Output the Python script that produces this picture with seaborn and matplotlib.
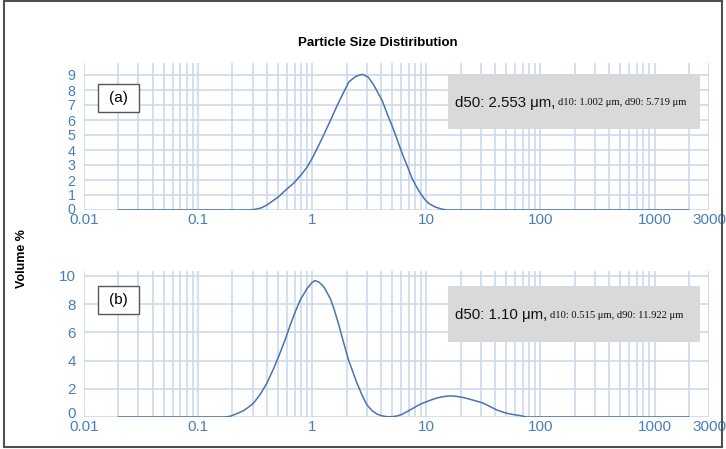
import matplotlib
matplotlib.use("Agg")
import matplotlib.pyplot as plt
from matplotlib.patches import Rectangle
from matplotlib.text import Annotation
import matplotlib.transforms as mtrans
import numpy as np
import pandas as pd
import seaborn as sns

# ---- data ----
sizes_a = [0.02, 0.28, 0.32, 0.36, 0.40, 0.45, 0.51, 0.58, 0.69, 0.80,
           0.90, 1.0, 1.13, 1.26, 1.45, 1.65, 1.9, 2.1, 2.4, 2.75,
           3.1, 3.45, 4.1, 4.6, 5.2, 5.7, 6.3, 7.0, 7.5, 8.2,
           8.9, 9.7, 10.5, 11.8, 13.3, 15, 2000]
vol_a = [0, 0, 0.05, 0.15, 0.33, 0.6, 0.9, 1.3, 1.8, 2.35,
         2.85, 3.45, 4.25, 5.0, 6.0, 6.95, 7.9, 8.55, 8.9, 9.05,
         8.85, 8.35, 7.3, 6.3, 5.3, 4.45, 3.55, 2.7, 2.1, 1.55,
         1.1, 0.7, 0.44, 0.22, 0.08, 0, 0]

sizes_b = [0.02, 0.17, 0.19, 0.204, 0.225, 0.25, 0.275, 0.305, 0.35, 0.40,
           0.46, 0.52, 0.58, 0.64, 0.71, 0.785, 0.9, 1.0, 1.06, 1.15,
           1.26, 1.44, 1.54, 1.70, 1.88, 2.08, 2.47, 2.75, 3.02, 3.35,
           3.69, 4.1, 4.52, 5.0, 5.53, 6.1, 6.77, 7.5, 8.28, 9.1,
           10.1, 11.2, 12.4, 14.0, 15.7, 17.3, 19.2, 21.6, 24.3, 27.8,
           31.8, 36.0, 41.4, 48, 55, 66.4, 75, 2000]
vol_b = [0, 0, 0.05, 0.14, 0.28, 0.45, 0.68, 0.97, 1.6, 2.39,
         3.45, 4.5, 5.5, 6.5, 7.45, 8.3, 9.1, 9.55, 9.67, 9.55,
         9.24, 8.4, 7.75, 6.6, 5.3, 4.04, 2.39, 1.5, 0.85, 0.45,
         0.21, 0.08, 0.02, 0.02, 0.07, 0.18, 0.38, 0.58, 0.78, 0.95,
         1.09, 1.23, 1.35, 1.44, 1.49, 1.49, 1.44, 1.36, 1.25, 1.12,
         0.97, 0.75, 0.5, 0.32, 0.2, 0.1, 0, 0]

x_ticks = [0.01, 0.1, 1, 10, 100, 1000, 3000]
x_tick_labels = ["0.01", "0.1", "1", "10", "100", "1000", "3000"]
y_ticks_a = list(range(0, 10))
y_ticks_b = [0, 2, 4, 6, 8, 10]

panel_labels = ["(a)", "(b)"]
d50_texts = ["d50: 2.553 \u03bcm,", "d50: 1.10 \u03bcm,"]
d1090_texts = ["d10: 1.002 \u03bcm, d90: 5.719 \u03bcm",
               "d10: 0.515 \u03bcm, d90: 11.922 \u03bcm"]
title = "Particle Size Distiribution"
ylabel = "Volume %"

# ---- style ----
sns.set_theme(style="white")
plt.rcParams['font.family'] = ['Liberation Sans', 'DejaVu Sans']

W, H = 726, 449
fig = plt.figure(figsize=(W / 100, H / 100), dpi=100)

tick_color = "#4a7ebb"
grid_color = "#c8d7eb"
line_color = "#4a72b0"

def fx(px):
    return px / W

def fy(py):
    return 1 - py / H

ax_a = fig.add_axes([fx(84), fy(210), fx(709) - fx(84), fy(63) - fy(210)])
ax_b = fig.add_axes([fx(84), fy(417), fx(709) - fx(84), fy(271) - fy(417)])

minor_lines = []
for dec in [0.01, 0.1, 1, 10, 100, 1000]:
    for m in range(1, 10):
        v = dec * m
        if v <= 3000:
            minor_lines.append(v)
minor_lines.append(3000)

configs = [
    (ax_a, sizes_a, vol_a, y_ticks_a, 9.8, 10.3, 2),
    (ax_b, sizes_b, vol_b, y_ticks_b, 10.35, 11, 4),
]

for ax, xs, ys, yt, ytop, ysize, zshift in configs:
    df = pd.DataFrame({"size": xs, "vol": ys})
    ax.set_xscale("log")
    ax.set_xlim(0.01, 3000)
    ax.set_ylim(0, ytop)
    for v in minor_lines:
        ax.axvline(v, color=grid_color, lw=1.1, zorder=0)
    for v in yt:
        ax.axhline(v, color=grid_color, lw=1.1, zorder=0)
    sns.lineplot(data=df, x="size", y="vol", ax=ax, color=line_color,
                 lw=1.1, zorder=3)
    ax.set_xticks(x_ticks)
    ax.set_xticklabels(x_tick_labels)
    ax.xaxis.set_minor_locator(matplotlib.ticker.NullLocator())
    ax.set_yticks(yt)
    ax.set_yticklabels([str(v) for v in yt])
    ax.tick_params(axis="both", length=0, colors=tick_color)
    ax.tick_params(axis="x", pad=2.5, labelsize=11)
    ax.tick_params(axis="y", pad=6, labelsize=ysize)
    zero_lab = ax.get_yticklabels()[0]
    zero_lab.set_transform(zero_lab.get_transform() +
                           mtrans.ScaledTranslation(0, zshift / 100, fig.dpi_scale_trans))
    for s in ax.spines.values():
        s.set_visible(False)
    ax.set_xlabel("")
    ax.set_ylabel("")
    ax.set_facecolor("none")
    ax.grid(False)

# title
fig.text(fx(378), fy(43), title, ha="center", va="center", fontsize=9.5,
         fontweight="bold", color="black")

# y label
fig.text(fx(22), fy(259), ylabel, ha="center", va="center", rotation=90,
         fontsize=9, fontweight="bold", color="black")

# panel label boxes
for (y0, y1), lab in zip([(84, 112), (286, 314)], panel_labels):
    r = Rectangle((fx(98), fy(y1)), fx(139) - fx(98), fy(y0) - fy(y1),
                  transform=fig.transFigure, facecolor="white",
                  edgecolor="#555555", lw=1.0, zorder=5)
    fig.add_artist(r)
    fig.text(fx(118.5), fy((y0 + y1) / 2), lab, ha="center", va="center",
             fontsize=11, color="black", zorder=6)

# d50 gray boxes
for (y0, y1), t1, t2 in zip([(74, 129), (286, 342)], d50_texts, d1090_texts):
    r = Rectangle((fx(448), fy(y1)), fx(700) - fx(448), fy(y0) - fy(y1),
                  transform=fig.transFigure, facecolor="#d9d9d9",
                  edgecolor="none", zorder=5)
    fig.add_artist(r)
    ta = fig.text(fx(455), fy((y0 + y1) / 2 + 1), t1, ha="left", va="center",
                  fontsize=10.8, color="#111111", zorder=6)
    ann = Annotation(t2, xy=(1, 0), xycoords=ta, xytext=(2, 1.5),
                     textcoords="offset points", ha="left", va="bottom",
                     fontsize=7.6, family="Liberation Serif",
                     color="#111111", annotation_clip=False, zorder=7)
    fig.add_artist(ann)

# outer frame
frame = Rectangle((fx(4), fy(447)), fx(722) - fx(4), fy(1) - fy(447),
                  transform=fig.transFigure, facecolor="none",
                  edgecolor="#505050", lw=1.5, zorder=10)
fig.add_artist(frame)

fig.savefig("out.png", dpi=100)
